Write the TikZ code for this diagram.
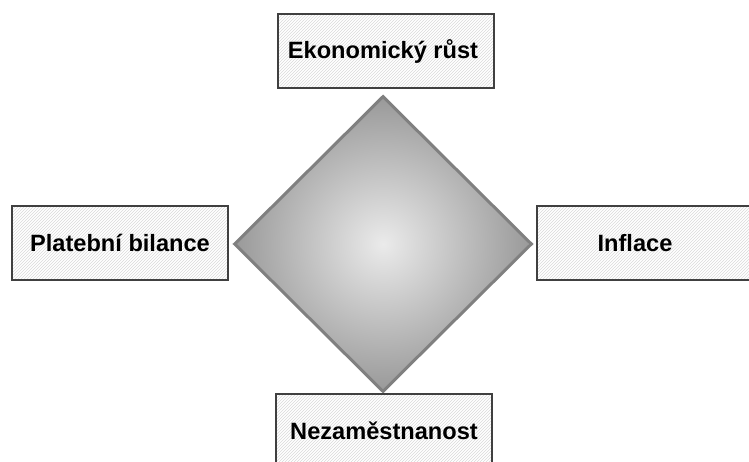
\documentclass[tikz,border=0pt]{standalone}
\usepackage{fontspec}
\setmainfont{Liberation Sans}
\usepackage{tikz}
\usetikzlibrary{shapes.geometric,patterns}

\begin{document}
\begin{tikzpicture}[x=1pt,y=-1pt,
				box node/.style={rectangle,draw=black!75,line width=1.3pt,pattern=north east lines,pattern color=black!15,
				minimum width=216pt,minimum height=74pt,inner sep=0pt,font=\bfseries\fontsize{23.6}{26}\selectfont},
				centre node/.style={diamond,draw=black!50,line width=3pt,inner color=black!8,outer color=black!40,
				minimum width=298pt,minimum height=296pt,inner sep=0pt}]

				\useasboundingbox (0,0) rectangle (749,462);
				\clip (0,0) rectangle (749,462);

				\node[centre node] (stred) at (383,244) {};
				\node[box node] (rust) at (386,51) {\hspace*{-6pt}Ekonomický růst};
				\node[box node] (bilance) at (120,243) {Platební bilance};
				\node[box node] (inflace) at (645,243) {\hspace*{-20pt}Inflace};
				\node[box node] (nezam) at (384,431) {Nezaměstnanost};

			\end{tikzpicture}
\end{document}
